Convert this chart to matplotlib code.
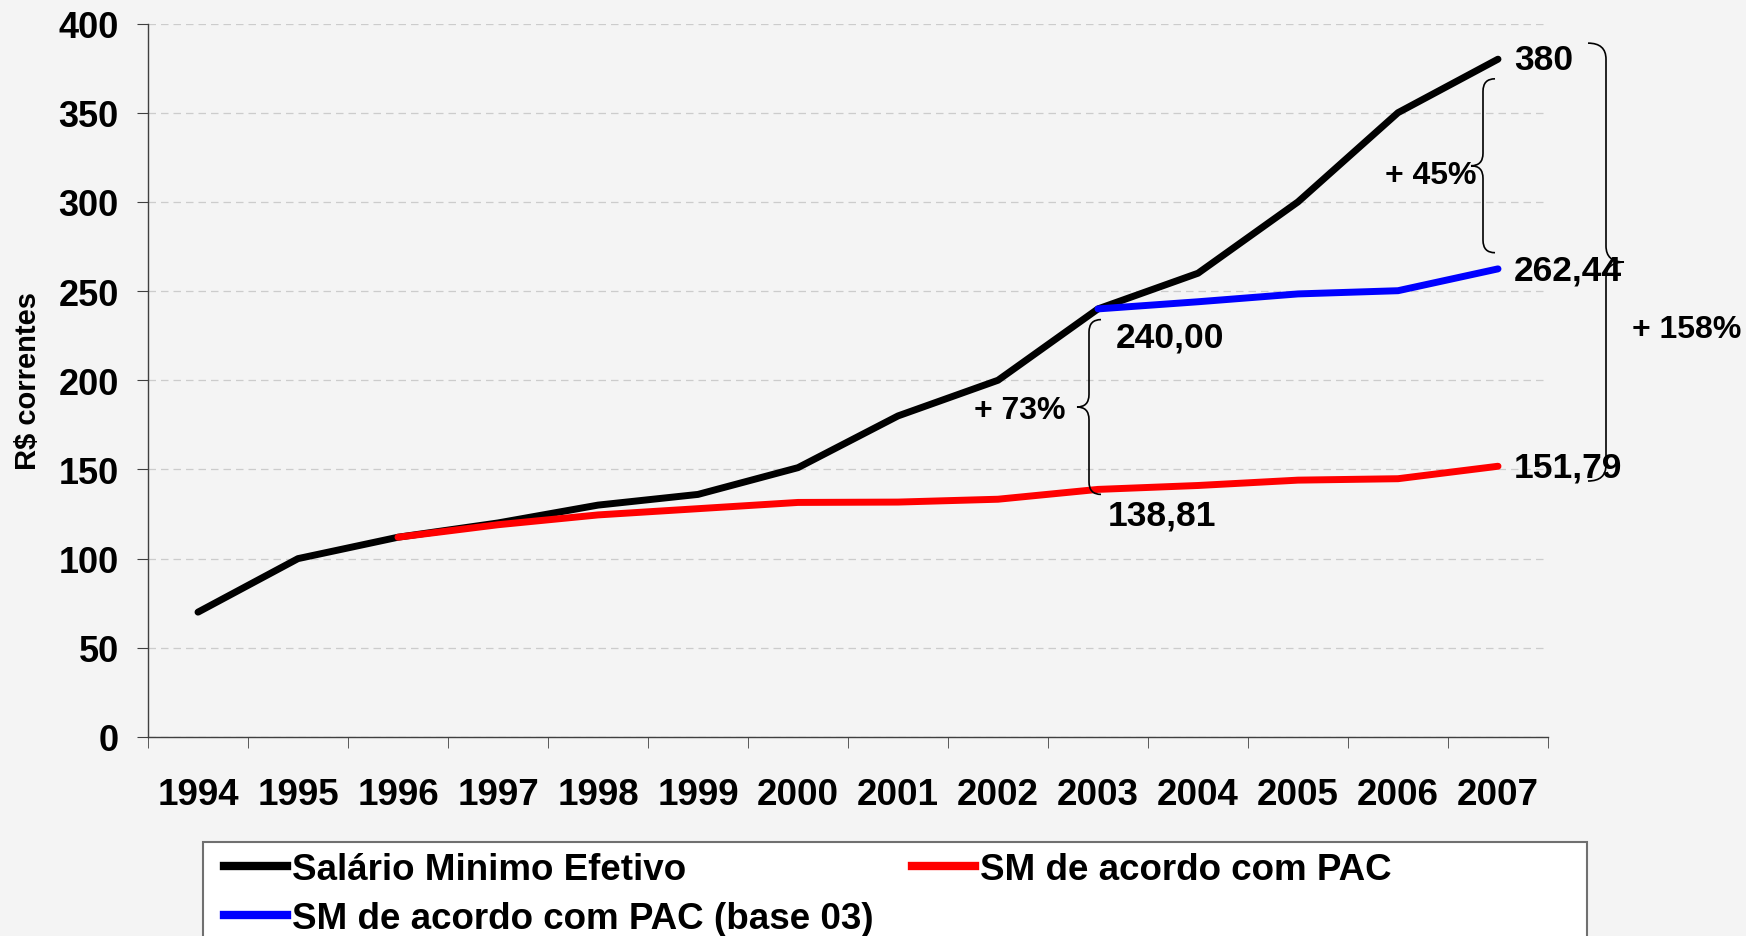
import matplotlib
matplotlib.use("Agg")
import matplotlib.pyplot as plt
from matplotlib.path import Path
from matplotlib.patches import PathPatch, Rectangle
from matplotlib.lines import Line2D
import numpy as np

plt.rcParams['font.family'] = ['Liberation Sans', 'DejaVu Sans']
plt.rcParams['font.weight'] = 'bold'

# dados
anos = ['1994', '1995', '1996', '1997', '1998', '1999', '2000',
        '2001', '2002', '2003', '2004', '2005', '2006', '2007']
sm_efetivo = [70, 100, 112, 120, 130, 136, 151, 180, 200, 240, 260, 300, 350, 380]
anos_pac = anos[2:]
sm_pac = [112, 119, 124.5, 128, 131.5, 131.7, 133.3, 138.81, 141, 144, 144.8, 151.79]
anos_pac03 = anos[9:]
sm_pac03 = [240, 244, 248.4, 250.2, 262.44]

rotulos = ['380', '262,44', '151,79', '240,00', '138,81']
variacoes = ['+ 45%', '+ 73%', '+ 158%']

bg = '#f4f4f4'
fig = plt.figure(figsize=(17.46, 9.37), dpi=100, facecolor=bg)
ax = fig.add_axes([148/1746, 1-738/937, 1400/1746, (738-24.5)/937])
ax.set_facecolor(bg)

x_all = np.arange(len(anos))
x_pac = [anos.index(a) for a in anos_pac]
x_pac03 = [anos.index(a) for a in anos_pac03]

ax.plot(x_all, sm_efetivo, color='black', lw=5, solid_capstyle='round', zorder=3)
ax.plot(x_pac, sm_pac, color='#ff0000', lw=5, solid_capstyle='round', zorder=4)
ax.plot(x_pac03, sm_pac03, color='#0000ff', lw=5, solid_capstyle='round', zorder=5)

ax.set_xlim(-0.5, len(anos) - 0.5)
ax.set_ylim(0, 400)
ax.set_yticks(range(0, 401, 50))
ax.set_xticks(x_all)
ax.set_xticklabels(anos)
ax.set_xticks(np.arange(-0.5, len(anos), 1), minor=True)
ax.tick_params(axis='x', which='major', length=0, pad=29, labelsize=26.5)
ax.tick_params(axis='x', which='minor', length=8, direction='out', color='#404040')
ax.tick_params(axis='y', length=8, direction='out', pad=13, labelsize=26, color='#404040')
for lbl in ax.get_xticklabels() + ax.get_yticklabels():
    lbl.set_fontweight('bold')

ax.spines['top'].set_visible(False)
ax.spines['right'].set_visible(False)
for s in ['left', 'bottom']:
    ax.spines[s].set_color('#404040')
    ax.spines[s].set_linewidth(1.0)

ax.grid(axis='y', color='#cccccc', ls=(0, (6, 4)), lw=0.9)
ax.set_axisbelow(True)
ax.set_ylabel('R$ correntes', fontsize=21, fontweight='bold')
ax.yaxis.set_label_coords(-0.076, 0.5)

# valores nas pontas
pos_rot = [(13.16, 380), (13.16, 262), (13.16, 151.6), (9.18, 224.5), (9.10, 124.5)]
for txt, (px, py) in zip(rotulos, pos_rot):
    ax.text(px, py, txt, fontsize=25.5, fontweight='bold', ha='left', va='center',
            clip_on=False, zorder=6)


def chave(ax, x, y0, y1, w, d, lado):
    # lado = -1 ponta para a esquerda "{", +1 ponta para a direita "}"
    ym = (y0 + y1) / 2
    verts = [(x - lado * w, y1), (x, y1), (x, y1 - d),
             (x, ym + d), (x, ym), (x + lado * w, ym),
             (x, ym), (x, ym - d),
             (x, y0 + d), (x, y0), (x - lado * w, y0)]
    codes = [Path.MOVETO, Path.CURVE3, Path.CURVE3,
             Path.LINETO, Path.CURVE3, Path.CURVE3,
             Path.CURVE3, Path.CURVE3,
             Path.LINETO, Path.CURVE3, Path.CURVE3]
    p = PathPatch(Path(verts, codes), fill=False, lw=1.2, color='black',
                  clip_on=False, zorder=6)
    ax.add_patch(p)


chave(ax, 12.85, 271.5, 369, 0.12, 7, -1)
chave(ax, 8.91, 136, 234, 0.12, 7, -1)
chave(ax, 14.08, 143.5, 389, 0.18, 9, 1)

ax.text(12.78, 315, variacoes[0], fontsize=23, fontweight='bold', ha='right', va='center', zorder=6)
ax.text(8.67, 183.5, variacoes[1], fontsize=23, fontweight='bold', ha='right', va='center', zorder=6)
ax.text(14.34, 228.5, variacoes[2], fontsize=23, fontweight='bold', ha='left', va='center',
        clip_on=False, zorder=6)

# caixa da legenda
caixa = Rectangle((203/1746, -0.05), 1384/1746, 0.05 + 1 - 843/937, transform=fig.transFigure,
                  facecolor='white', edgecolor='#707070', lw=1.5, zorder=0)
fig.patches.append(caixa)

handles = [Line2D([], [], color='black', lw=6),
           Line2D([], [], color='#0000ff', lw=6),
           Line2D([], [], color='#ff0000', lw=6)]
nomes = ['Salário Minimo Efetivo', 'SM de acordo com PAC (base 03)', 'SM de acordo com PAC']
leg = fig.legend(handles, nomes, ncol=2, loc='upper left',
                 bbox_to_anchor=(224/1746, 1 - 853/937),
                 prop={'size': 26.5, 'weight': 'bold'}, frameon=False,
                 handlelength=1.7, handletextpad=0.15, columnspacing=1.05,
                 labelspacing=0.37, borderpad=0, borderaxespad=0)

fig.savefig('out.png', dpi=100, facecolor=bg)
